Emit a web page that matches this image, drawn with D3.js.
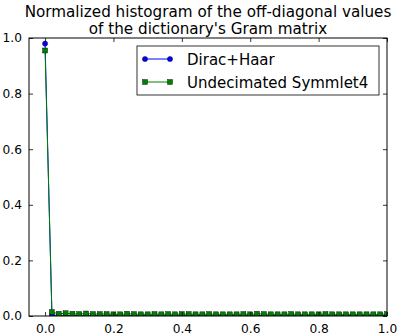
<!DOCTYPE html>
<html>
<head>
<meta charset="utf-8">
<script src="https://cdn.jsdelivr.net/npm/d3@7"></script>
<style>
  body { margin: 0; background: #fff; }
  text { font-family: "DejaVu Sans", sans-serif; }
</style>
</head>
<body>
<div class="vis-hist"></div>
<script>
// histogram bins (centres) and the two series
const bins = d3.range(51).map((i) => +(i * 0.02).toFixed(2));

const diracHaar = [
  0.98, 0.004, 0.001, 0.001, 0.001, 0.001, 0.001, 0.001, 0.001, 0.001,
  0.001, 0.001, 0.001, 0.001, 0.001, 0.001, 0.001, 0.001, 0.001, 0.001,
  0.001, 0.001, 0.001, 0.001, 0.001, 0.001, 0.001, 0.001, 0.001, 0.001,
  0.001, 0.001, 0.001, 0.001, 0.001, 0.001, 0.001, 0.001, 0.001, 0.001,
  0.001, 0.001, 0.001, 0.001, 0.001, 0.001, 0.001, 0.001, 0.001, 0.001,
  0.001
];

const symmlet4 = [
  0.955, 0.014, 0.008, 0.010, 0.008, 0.007, 0.009, 0.007, 0.007, 0.007,
  0.006, 0.006, 0.008, 0.007, 0.006, 0.006, 0.007, 0.006, 0.007, 0.006,
  0.007, 0.007, 0.006, 0.006, 0.007, 0.006, 0.006, 0.006, 0.006, 0.007,
  0.006, 0.008, 0.007, 0.006, 0.006, 0.006, 0.007, 0.006, 0.006, 0.006,
  0.006, 0.007, 0.006, 0.006, 0.006, 0.006, 0.006, 0.006, 0.006, 0.006,
  0.007
];

const seriesNames = ["Dirac+Haar", "Undecimated Symmlet4"];
const xTicks = [0.0, 0.2, 0.4, 0.6, 0.8, 1.0];
const yTicks = [0.0, 0.2, 0.4, 0.6, 0.8, 1.0];
const titleLines = [
  "Normalized histogram of the off-diagonal values",
  "of the dictionary's Gram matrix"
];

const W = 399, H = 335;
const margin = { top: 38, right: 12, bottom: 19, left: 29 };
const width = W - margin.left - margin.right;
const height = H - margin.top - margin.bottom;

const svg = d3.select(".vis-hist")
  .append("svg")
  .attr("width", W)
  .attr("height", H);

const g = svg.append("g")
  .attr("transform", "translate(" + margin.left + "," + margin.top + ")");

const x = d3.scaleLinear().domain([-0.047, 1.0]).range([0, width]);
const y = d3.scaleLinear().domain([0, 1]).range([height, 0]);

svg.append("defs").append("clipPath").attr("id", "plot-clip")
  .append("rect").attr("width", width).attr("height", height);

// title
svg.append("g").selectAll("text")
  .data(titleLines)
  .enter()
  .append("text")
  .attr("x", margin.left + width / 2)
  .attr("y", (d, i) => 17 + i * 16.5)
  .attr("text-anchor", "middle")
  .attr("font-size", "15.2px")
  .attr("fill", "#000")
  .text((d) => d);

// series
const series = [
  { name: seriesNames[0], values: diracHaar, color: "#0000ff", marker: "circle" },
  { name: seriesNames[1], values: symmlet4, color: "#008000", marker: "square" }
];

const line = d3.line()
  .x((d) => x(d[0]))
  .y((d) => y(d[1]));

const plot = g.append("g").attr("clip-path", "url(#plot-clip)");

series.forEach((s) => {
  const pts = bins.map((b, i) => [b, s.values[i]]);
  plot.append("path")
    .datum(pts)
    .attr("d", line)
    .attr("fill", "none")
    .attr("stroke", s.color)
    .attr("stroke-width", 1);

  if (s.marker === "circle") {
    plot.selectAll(".m-circle")
      .data(pts)
      .enter()
      .append("circle")
      .attr("class", "m-circle")
      .attr("cx", (d) => x(d[0]))
      .attr("cy", (d) => y(d[1]))
      .attr("r", 2.6)
      .attr("fill", s.color)
      .attr("stroke", "#000")
      .attr("stroke-width", 0.4);
  } else {
    plot.selectAll(".m-square")
      .data(pts)
      .enter()
      .append("rect")
      .attr("class", "m-square")
      .attr("x", (d) => x(d[0]) - 2.5)
      .attr("y", (d) => y(d[1]) - 2.5)
      .attr("width", 5)
      .attr("height", 5)
      .attr("fill", s.color)
      .attr("stroke", "#000")
      .attr("stroke-width", 0.4);
  }
});

// axes, matplotlib classic style: ticks inside on all four sides
const tickLen = 4;
const xb = g.append("g").attr("transform", "translate(0," + height + ")")
  .call(d3.axisBottom(x).tickValues(xTicks).tickFormat(d3.format(".1f"))
    .tickSizeInner(-tickLen).tickSizeOuter(0).tickPadding(8));
const xt = g.append("g")
  .call(d3.axisTop(x).tickValues(xTicks).tickFormat("")
    .tickSizeInner(-tickLen).tickSizeOuter(0));
const yl = g.append("g")
  .call(d3.axisLeft(y).tickValues(yTicks).tickFormat(d3.format(".1f"))
    .tickSizeInner(-tickLen).tickSizeOuter(0).tickPadding(7));
const yr = g.append("g").attr("transform", "translate(" + width + ",0)")
  .call(d3.axisRight(y).tickValues(yTicks).tickFormat("")
    .tickSizeInner(-tickLen).tickSizeOuter(0));

[xb, xt, yl, yr].forEach((a) => {
  a.select(".domain").remove();
  a.selectAll("line").attr("stroke", "#000").attr("stroke-width", 0.8);
  a.selectAll("text").attr("font-size", "12.2px").attr("fill", "#000")
    .style("font-family", "DejaVu Sans");
});

g.append("rect")
  .attr("width", width)
  .attr("height", height)
  .attr("fill", "none")
  .attr("stroke", "#000")
  .attr("stroke-width", 1);

// legend
const legend = g.append("g").attr("transform", "translate(108,8)");
legend.append("rect")
  .attr("x", 0).attr("y", 0)
  .attr("width", 242).attr("height", 49)
  .attr("fill", "#fff")
  .attr("stroke", "#000")
  .attr("stroke-width", 0.8);

const legendG = legend.selectAll(".legend")
  .data(series)
  .enter()
  .append("g")
  .attr("class", "legend")
  .attr("transform", (d, i) => "translate(0," + (13 + i * 23) + ")");

legendG.append("line")
  .attr("x1", 8).attr("x2", 33)
  .attr("stroke", (d) => d.color)
  .attr("stroke-width", 1);

legendG.each(function (d) {
  const sel = d3.select(this);
  [8, 33].forEach((cx) => {
    if (d.marker === "circle") {
      sel.append("circle").attr("cx", cx).attr("cy", 0).attr("r", 2.6)
        .attr("fill", d.color).attr("stroke", "#000").attr("stroke-width", 0.4);
    } else {
      sel.append("rect").attr("x", cx - 2.5).attr("y", -2.5)
        .attr("width", 5).attr("height", 5)
        .attr("fill", d.color).attr("stroke", "#000").attr("stroke-width", 0.4);
    }
  });
});

legendG.append("text")
  .attr("x", 50)
  .attr("y", 5.5)
  .attr("font-size", "15px")
  .attr("fill", "#000")
  .text((d) => d.name);
</script>
</body>
</html>
